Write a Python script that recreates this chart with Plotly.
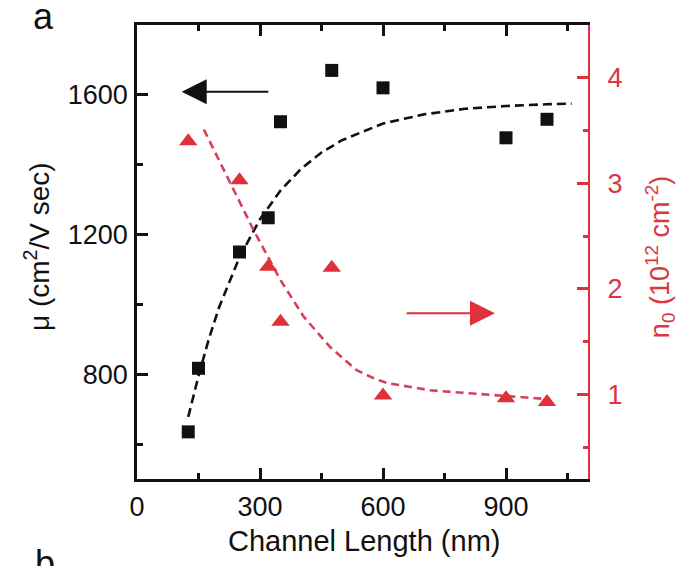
import plotly.graph_objects as go

# ---- data ----
length_nm = [125, 150, 250, 320, 350, 475, 600, 900, 1000]
mobility = [635, 817, 1150, 1248, 1523, 1670, 1620, 1477, 1530]

n0_length = [125, 250, 320, 350, 475, 600, 900, 1000]
n0_values = [3.40, 3.03, 2.21, 1.69, 2.20, 0.99, 0.965, 0.93]

mu_fit_x = [125, 150, 175, 200, 250, 300, 350, 400, 450, 500, 600, 700, 800, 900, 1000, 1060]
mu_fit_y = [678, 795, 900, 991, 1135, 1244, 1326, 1388, 1435, 1470, 1518, 1544, 1560, 1568, 1573, 1575]

n0_fit_x = [163, 227, 284, 349, 406, 471, 536, 580, 609, 715, 877, 1007]
n0_fit_y = [3.51, 3.00, 2.56, 2.09, 1.74, 1.45, 1.23, 1.15, 1.11, 1.04, 0.99, 0.955]

x_ticks = [0, 300, 600, 900]
mu_ticks = [800, 1200, 1600]
n0_ticks = [1, 2, 3, 4]

RED = "#e0303a"
RED_TXT = "#d8383e"
FONT = "Liberation Sans"

fig = go.Figure()

fig.add_trace(go.Scatter(
    x=mu_fit_x, y=mu_fit_y, mode="lines",
    line=dict(color="#111111", width=2.6, dash="9px,5px"),
    showlegend=False, hoverinfo="skip"))
fig.add_trace(go.Scatter(
    x=n0_fit_x, y=n0_fit_y, mode="lines", yaxis="y2",
    line=dict(color="#d8405a", width=2.6, dash="8px,5px"),
    showlegend=False, hoverinfo="skip"))
fig.add_trace(go.Scatter(
    x=length_nm, y=mobility, mode="markers",
    marker=dict(symbol="square", size=13, color="#111111"),
    showlegend=False))
fig.add_trace(go.Scatter(
    x=n0_length, y=n0_values, mode="markers", yaxis="y2",
    marker=dict(symbol="triangle-up", size=16, color=RED),
    showlegend=False))

fig.update_layout(
    width=682, height=566,
    margin=dict(l=137, r=94, t=25, b=87),
    paper_bgcolor="white", plot_bgcolor="white",
    font=dict(family=FONT, size=27, color="#111111"),
    xaxis=dict(
        range=[0, 1100], tickmode="array", tickvals=x_ticks,
        ticks="inside", ticklen=11, tickwidth=2.5, tickcolor="#111111",
        minor=dict(ticks="inside", ticklen=6, tickwidth=2.5, dtick=150, tick0=0, tickcolor="#111111"),
        showline=True, linewidth=2.6, linecolor="#111111", mirror="ticks",
        showgrid=False, zeroline=False, automargin=False,
        tickfont=dict(family=FONT, size=27, color="#111111"),
        ticklabelstandoff=2,
    ),
    yaxis=dict(
        range=[500, 1800], tickmode="array", tickvals=mu_ticks,
        ticks="inside", ticklen=11, tickwidth=2.5, tickcolor="#111111",
        minor=dict(ticks="inside", ticklen=6, tickwidth=2.5, dtick=200, tick0=0, tickcolor="#111111"),
        showline=True, linewidth=2.6, linecolor="#111111",
        showgrid=False, zeroline=False, automargin=False,
        tickfont=dict(family=FONT, size=27, color="#111111"),
        ticklabelstandoff=1,
    ),
    yaxis2=dict(
        range=[0.2, 4.5], overlaying="y", side="right",
        tickmode="array", tickvals=n0_ticks,
        ticks="inside", ticklen=11, tickwidth=2.5, tickcolor=RED,
        minor=dict(ticks="inside", ticklen=5, tickwidth=2.5, dtick=0.5, tick0=0, tickcolor=RED),
        showline=True, linewidth=2.2, linecolor=RED,
        showgrid=False, zeroline=False, automargin=False,
        tickfont=dict(family=FONT, size=27, color=RED_TXT),
        ticklabelstandoff=12,
    ),
)

annotations = [
    dict(text="Channel Length (nm)", x=0.503, y=-0.1366, xref="paper", yref="paper",
         xanchor="center", yanchor="middle", showarrow=False,
         font=dict(family=FONT, size=29, color="#111111")),
    dict(text="μ (cm<sup>2</sup>/V sec)", x=-0.2217, y=0.511, xref="paper", yref="paper",
         xanchor="center", yanchor="middle", showarrow=False, textangle=-90,
         font=dict(family=FONT, size=28, color="#111111")),
    dict(text="n<sub>0</sub> (10<sup>12</sup> cm<sup>-2</sup>)", x=1.16, y=0.489,
         xref="paper", yref="paper", xanchor="center", yanchor="middle",
         showarrow=False, textangle=-90,
         font=dict(family=FONT, size=27, color=RED_TXT)),
    dict(text="a", x=-0.208, y=1.018, xref="paper", yref="paper",
         xanchor="center", yanchor="middle", showarrow=False,
         font=dict(family=FONT, size=36, color="#111111")),
    dict(text="b", x=-0.204, y=-0.187, xref="paper", yref="paper",
         xanchor="center", yanchor="middle", showarrow=False,
         font=dict(family=FONT, size=36, color="#111111")),
    dict(text="", x=109, y=1609, xref="x", yref="y", ax=324, ay=1609,
         axref="x", ayref="y", showarrow=True, arrowhead=2, arrowsize=2.5,
         arrowwidth=2, arrowcolor="#111111"),
    dict(text="", x=873, y=1.77, xref="x", yref="y2", ax=654, ay=1.77,
         axref="x", ayref="y2", showarrow=True, arrowhead=2, arrowsize=2.5,
         arrowwidth=2, arrowcolor=RED),
]
fig.update_layout(annotations=annotations)

fig.write_html("out.html")
